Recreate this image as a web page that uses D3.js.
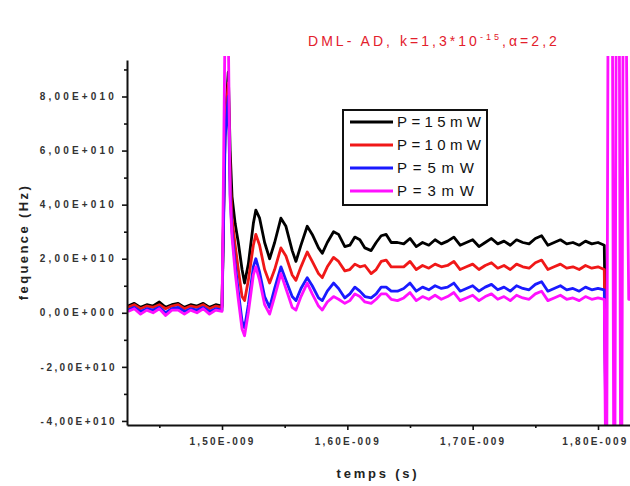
<!DOCTYPE html>
<html>
<head>
<meta charset="utf-8">
<script src="https://cdn.jsdelivr.net/npm/d3@7"></script>
<style>
  html, body { margin: 0; padding: 0; background: #fff; }
  svg { display: block; font-family: "Liberation Sans", Arial, sans-serif; }
</style>
</head>
<body>
<svg id="chart" width="630" height="486"></svg>
<script>
// ---------------- data (frequency in units of 1e10 Hz, time in ns) ----------------
const timeNs = [
  1.425,1.430,1.435,1.440,1.445,1.450,1.455,1.460,1.465,1.470,1.475,1.480,1.485,1.490,1.495,1.500,
  1.5025,1.5050,1.5065,1.5080,1.5105,1.5130,1.5160,1.5180,1.5210,1.5250,1.5270,1.5300,1.5340,1.5380,
  1.5420,1.5470,1.5510,1.5560,1.5590,1.5630,1.5680,1.5720,1.5770,1.5800,1.5840,1.5890,1.5930,1.5980,
  1.6020,1.6060,1.6100,1.6140,1.6190,1.6230,1.6270,1.6310,1.6350,1.6400,
  1.645,1.650,1.655,1.660,1.665,1.670,1.675,1.680,1.685,1.690,1.695,1.700,1.705,1.710,1.715,1.720,
  1.725,1.730,1.735,1.740,1.745,1.750,1.755,1.760,1.765,1.770,1.775,1.780,1.785,1.790,1.795,1.800,1.805,
  1.8060,1.8070,1.8080,1.8115,1.8125,1.8135,1.8145,1.8170,1.8180,1.8190,1.8200,1.8225,1.8235,1.8245,1.8300
];
const p15mW = [
  0.25,0.35,0.2,0.3,0.25,0.4,0.2,0.3,0.35,0.2,0.3,0.25,0.35,0.2,0.3,0.25,
  7.0,8.9,6.0,4.3,3.3,2.6,1.6,1.1,1.8,3.3,3.8,3.5,2.6,2.0,2.6,3.5,3.2,2.3,1.9,2.5,3.2,2.9,2.4,2.2,
  2.6,3.0,2.9,2.45,2.5,2.8,2.7,2.4,2.3,2.6,2.85,2.9,2.6,2.6,
  2.55,2.75,2.45,2.6,2.5,2.7,2.55,2.65,2.8,2.5,2.6,2.7,2.45,2.6,2.75,2.55,2.65,2.5,2.7,2.6,
  2.55,2.75,2.85,2.5,2.6,2.7,2.55,2.6,2.5,2.65,2.55,2.6,2.5,
  -1.5,-5,-5,-5,-5,-5,-5,-5,-5,-5,-5,-5,-5,-5,-5
];
const p10mW = [
  0.2,0.3,0.15,0.25,0.2,0.3,0.15,0.25,0.3,0.15,0.25,0.2,0.3,0.15,0.25,0.2,
  7.0,8.5,5.0,3.5,2.5,1.6,0.6,0.45,1.2,2.5,2.9,2.5,1.6,1.1,1.6,2.4,2.1,1.4,1.2,1.7,2.25,1.9,1.45,1.3,
  1.7,2.05,1.9,1.55,1.6,1.8,1.7,1.75,1.45,1.6,1.9,1.95,1.7,1.7,
  1.7,1.9,1.6,1.75,1.65,1.8,1.7,1.75,1.9,1.6,1.7,1.8,1.6,1.75,1.85,1.65,1.75,1.6,1.8,1.7,
  1.65,1.85,1.95,1.6,1.7,1.8,1.65,1.7,1.6,1.75,1.65,1.7,1.6,
  -2.8,-5,-5,-5,-5,-5,-5,-5,-5,-5,-5,-5,-5,-5,-5
];
const p5mW = [
  0.1,0.2,0.05,0.15,0.1,0.2,0.0,0.15,0.2,0.05,0.15,0.1,0.2,0.05,0.15,0.1,
  6.5,8.0,4.4,3.0,1.8,0.8,-0.3,-0.55,0.3,1.7,2.0,1.5,0.6,0.2,0.9,1.7,1.2,0.6,0.45,0.9,1.3,1.0,0.55,0.45,
  0.8,1.1,0.9,0.55,0.7,0.95,0.8,0.6,0.55,0.7,0.95,0.95,0.8,0.8,
  0.9,1.1,0.8,0.95,0.85,1.0,0.9,0.95,1.1,0.8,0.9,1.0,0.8,0.95,1.05,0.85,0.95,0.8,1.0,0.9,
  0.85,1.05,1.15,0.8,0.9,1.0,0.85,0.9,0.8,0.95,0.85,0.9,0.85,
  -3.3,-5,-5,-5,-5,-5,-5,-5,-5,-5,-5,-5,-5,-5,-5
];
const p3mW = [
  0.05,0.15,-0.05,0.1,0.0,0.15,-0.1,0.1,0.1,-0.05,0.1,0.0,0.15,-0.05,0.1,0.05,
  11,10.5,4.2,2.8,1.5,0.5,-0.6,-0.85,0.0,1.4,1.7,1.2,0.3,-0.05,0.6,1.45,0.9,0.2,0.1,0.6,1.1,0.7,0.25,0.1,
  0.4,0.6,0.5,0.35,0.45,0.7,0.6,0.4,0.35,0.5,0.7,0.7,0.5,0.45,
  0.55,0.75,0.45,0.6,0.5,0.65,0.5,0.6,0.75,0.45,0.55,0.65,0.45,0.6,0.7,0.5,0.6,0.45,0.65,0.55,
  0.5,0.7,0.8,0.45,0.55,0.65,0.5,0.55,0.45,0.6,0.5,0.55,0.5,
  -5,-5,11,11,-5,-5,11,11,-5,-5,11,11,5.1,0.5,0.5
];
const seriesNames = ["P=15mW", "P=10mW", "P=5mW", "P=3mW"];
const seriesColors = ["#000000", "#f01818", "#1a1aff", "#ff10ff"];
const seriesValues = [p15mW, p10mW, p5mW, p3mW];

const xMajorTicks = [1.5e-9, 1.6e-9, 1.7e-9, 1.8e-9];
const xMinorTicks = [1.45e-9, 1.55e-9, 1.65e-9, 1.75e-9];
const yMajorTicks = [-4e10, -2e10, 0, 2e10, 4e10, 6e10, 8e10];
const yMinorTicks = [-3e10, -1e10, 1e10, 3e10, 5e10, 7e10, 9e10];

const titleMain = "DML- AD, k=1,3*10";
const titleSup = "-15";
const titleEnd = ",\u03B1=2,2";
const xTitle = "temps (s)";
const yTitle = "fequence (Hz)";

// ---------------- layout ----------------
const svg = d3.select("#chart");
const plot = { left: 127, right: 641, top: 60, bottom: 425 };

const x = d3.scaleLinear().domain([1.4242e-9, 1.8343e-9]).range([plot.left, plot.right]);
const y = d3.scaleLinear().domain([-4.15e10, 9.35e10]).range([plot.bottom, plot.top]);

function fmtE(v) {
  if (v === 0) return "0,00E+000";
  const e = Math.floor(Math.log10(Math.abs(v)) + 1e-9);
  const m = v / Math.pow(10, e);
  return m.toFixed(2).replace(".", ",") + "E" + (e < 0 ? "-" : "+") + String(Math.abs(e)).padStart(3, "0");
}

function fitWidth(sel, target) {
  sel.each(function () {
    const n = this.textContent.length;
    d3.select(this).attr("letter-spacing", 0);
    const w = this.getComputedTextLength();
    if (n > 1) d3.select(this).attr("letter-spacing", ((target - w) / (n - 1)).toFixed(2));
  });
}

svg.append("rect").attr("width", 630).attr("height", 486).attr("fill", "#fff");

// clip
svg.append("clipPath").attr("id", "clip")
  .append("rect").attr("x", plot.left).attr("y", plot.top - 4)
  .attr("width", plot.right - plot.left).attr("height", plot.bottom - plot.top + 4);

// lines
const line = d3.line()
  .x((d, i) => x(timeNs[i] * 1e-9))
  .y(d => y(d * 1e10));

const gLines = svg.append("g").attr("clip-path", "url(#clip)");
seriesValues.forEach((vals, k) => {
  gLines.append("path")
    .attr("d", line(vals))
    .attr("fill", "none")
    .attr("stroke", seriesColors[k])
    .attr("stroke-width", 2.8)
    .attr("stroke-linejoin", "round");
});

// axes
const xAxis = d3.axisBottom(x).tickValues(xMajorTicks).tickFormat(fmtE).tickSize(5).tickSizeOuter(0);
const xAxisMinor = d3.axisBottom(x).tickValues(xMinorTicks).tickFormat("").tickSize(3).tickSizeOuter(0);
const yAxis = d3.axisLeft(y).tickValues(yMajorTicks).tickFormat(fmtE).tickSize(5).tickSizeOuter(0);
const yAxisMinor = d3.axisLeft(y).tickValues(yMinorTicks).tickFormat("").tickSize(3).tickSizeOuter(0);

const gx = svg.append("g").attr("transform", `translate(0,${plot.bottom})`).call(xAxis);
svg.append("g").attr("transform", `translate(0,${plot.bottom})`).call(xAxisMinor)
  .select(".domain").remove();
const gy = svg.append("g").attr("transform", `translate(${plot.left},0)`).call(yAxis);
svg.append("g").attr("transform", `translate(${plot.left},0)`).call(yAxisMinor)
  .select(".domain").remove();

svg.selectAll(".domain").attr("stroke", "#111").attr("stroke-width", 2);
svg.selectAll(".tick line").attr("stroke", "#111").attr("stroke-width", 1.6);

gx.selectAll(".tick text")
  .attr("y", 13).attr("dy", "0.71em")
  .attr("font-size", 10).attr("fill", "#333").attr("font-weight", "bold")
  .call(fitWidth, 64);
// keep the last label inside the picture (the reference shows it at the right edge)
gx.selectAll(".tick text").filter(d => d === xMajorTicks[xMajorTicks.length - 1])
  .attr("text-anchor", "end").attr("x", 30);
gy.selectAll(".tick text")
  .attr("x", -10)
  .attr("font-size", 10).attr("fill", "#333").attr("font-weight", "bold")
  .call(fitWidth, 74);

// axis titles
svg.append("text")
  .attr("x", 378).attr("y", 478)
  .attr("text-anchor", "middle")
  .attr("font-size", 13).attr("font-weight", "bold").attr("fill", "#222")
  .text(xTitle).call(fitWidth, 80);

svg.append("text")
  .attr("transform", "translate(28,242) rotate(-90)")
  .attr("text-anchor", "middle")
  .attr("font-size", 13).attr("font-weight", "bold").attr("fill", "#222")
  .text(yTitle).call(fitWidth, 114);

// title
const title = svg.append("text")
  .attr("x", 308).attr("y", 46)
  .attr("font-size", 14).attr("fill", "#e3202c");
title.append("tspan").text(titleMain);
title.append("tspan").attr("font-size", 9).attr("dy", -6).text(titleSup);
title.append("tspan").attr("dy", 6).text(titleEnd);
(function () {
  const node = title.node();
  const w = node.getComputedTextLength();
  const n = (titleMain + titleSup + titleEnd).length;
  title.attr("letter-spacing", ((249 - w) / (n - 1)).toFixed(2));
})();

// legend
const lg = svg.append("g");
lg.append("rect")
  .attr("x", 343).attr("y", 110).attr("width", 144).attr("height", 95)
  .attr("fill", "#fff").attr("stroke", "#111").attr("stroke-width", 2);
const legendY = [122, 145, 168, 191];
seriesNames.forEach((name, k) => {
  lg.append("line")
    .attr("x1", 350).attr("x2", 393)
    .attr("y1", legendY[k]).attr("y2", legendY[k])
    .attr("stroke", seriesColors[k]).attr("stroke-width", 2.8);
  lg.append("text")
    .attr("x", 397).attr("y", legendY[k]).attr("dy", "0.35em")
    .attr("font-size", 15).attr("fill", "#111")
    .text(name).call(fitWidth, name.length > 5 ? 84 : 77);
});
</script>
</body>
</html>
